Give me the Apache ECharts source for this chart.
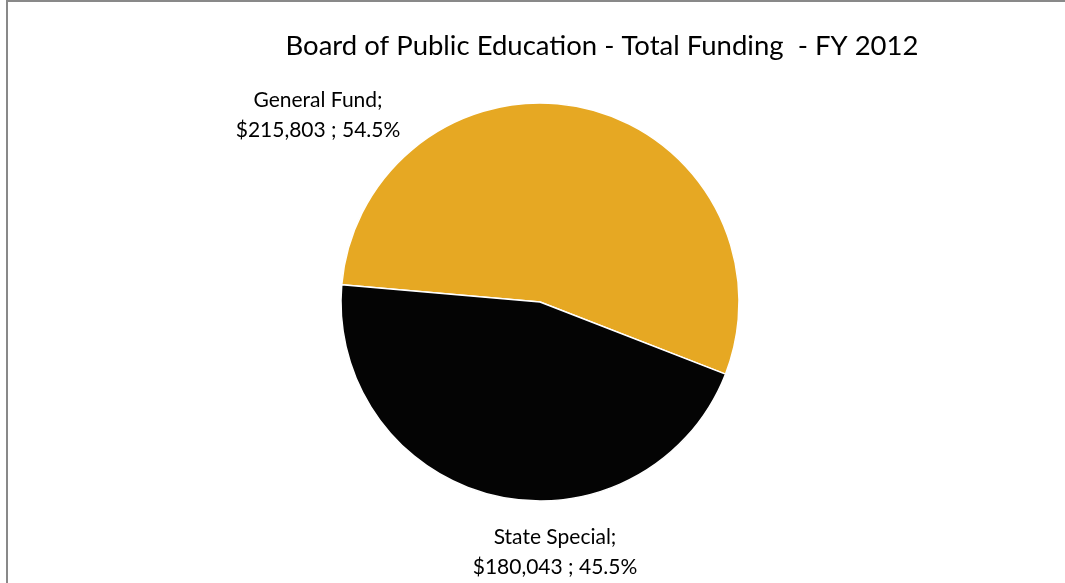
<!DOCTYPE html>
<html>
<head>
<meta charset="utf-8">
<style>
  html, body { margin: 0; padding: 0; background: #fff; }
  #chart { width: 1065px; height: 583px; }
</style>
<script src="https://cdn.jsdelivr.net/npm/echarts@6/dist/echarts.min.js"></script>
</head>
<body>
<div id="chart"></div>
<script>
// Funding sources for FY 2012
const categories = ['General Fund', 'State Special'];
const amounts = [215803, 180043];
const sliceColors = ['#E6A823', '#040404'];

const total = amounts.reduce((a, b) => a + b, 0);
const fmtMoney = v => '$' + v.toLocaleString('en-US');

const chart = echarts.init(document.getElementById('chart'), null, { renderer: 'canvas' });

const fontFamily = 'Lato, "Open Sans", sans-serif';

chart.setOption({
  animation: false,
  backgroundColor: '#ffffff',
  title: {
    text: 'Board of Public Education - Total Funding  - FY 2012',
    left: 597,
    top: 27,
    textAlign: 'center',
    textStyle: { fontFamily, fontWeight: 'normal', fontSize: 27.5, color: '#000' }
  },
  graphic: [{
    type: 'rect',
    shape: { x: 7, y: 1, width: 1200, height: 1000 },
    style: { fill: 'none', stroke: '#898989', lineWidth: 2 },
    silent: true
  }],
  series: [{
    type: 'pie',
    center: [540, 302],
    radius: 199,
    startAngle: 175,
    clockwise: true,
    data: categories.map((name, i) => ({
      name,
      value: amounts[i],
      itemStyle: { color: sliceColors[i] }
    })),
    itemStyle: { borderColor: '#ffffff', borderWidth: 1.5 },
    label: {
      show: true,
      position: 'outside',
      fontFamily,
      fontSize: 21,
      lineHeight: 30,
      color: '#000',
      align: 'center',
      formatter: p => p.name + ';\n' + fmtMoney(p.value) + ' ; ' + (p.value / total * 100).toFixed(1) + '%'
    },
    labelLine: { show: false },
    labelLayout: function (params) {
      const pos = params.dataIndex === 0 ? [318, 115] : [555, 552];
      return { x: pos[0], y: pos[1], align: 'center', verticalAlign: 'middle' };
    },
    emphasis: { disabled: true }
  }]
});
</script>
</body>
</html>
